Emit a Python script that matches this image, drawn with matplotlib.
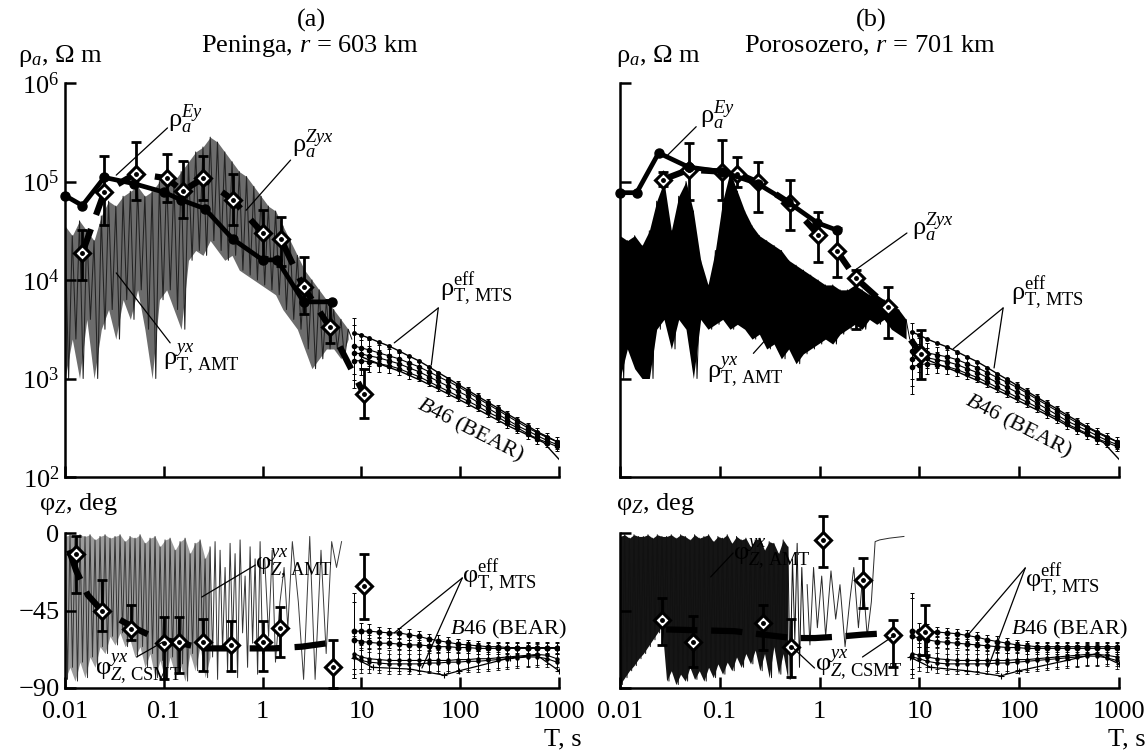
import numpy as np
import matplotlib
matplotlib.use('Agg')
import matplotlib.pyplot as plt
from matplotlib.ticker import NullLocator

plt.rcParams['font.family'] = ['Liberation Serif', 'DejaVu Serif']
plt.rcParams['mathtext.fontset'] = 'custom'
plt.rcParams['mathtext.rm'] = 'Liberation Serif'
plt.rcParams['mathtext.it'] = 'Liberation Serif:italic'
plt.rcParams['mathtext.bf'] = 'Liberation Serif:bold'

# ---------------- axes ticks ----------------
x_ticks = [0.01, 0.1, 1, 10, 100, 1000]
x_ticklabels = ['0.01', '0.1', '1', '10', '100', '1000']
rho_ticks = [1e2, 1e3, 1e4, 1e5, 1e6]
rho_ticklabels = ['$10^{2}$', '$10^{3}$', '$10^{4}$', '$10^{5}$', '$10^{6}$']
phi_ticks = [-90, -45, 0]
phi_ticklabels = ['\u221290', '\u221245', '0']

# ---------------- panel (a) Peninga ----------------
ey_a_T = [0.01, 0.015, 0.025, 0.05, 0.1, 0.15, 0.26, 0.5, 1.0, 1.4, 2.6, 5.0]
ey_a_rho = [7.2e4, 5.7e4, 1.1e5, 9.5e4, 7.8e4, 6.5e4, 5.3e4, 2.6e4, 1.6e4, 1.6e4, 6.0e3, 6.0e3]

zyx_a_T = [0.015, 0.025, 0.052, 0.107, 0.155, 0.25, 0.5, 1.0, 1.53, 2.6, 4.8, 10.6]
zyx_a_rho = [1.9e4, 7.8e4, 1.2e5, 1.08e5, 8.0e4, 1.08e5, 6.5e4, 3.0e4, 2.6e4, 8.5e3, 3.3e3, 7.0e2]
zyx_a_lo = [1.0e4, 3.6e4, 6.5e4, 6.2e4, 4.3e4, 6.5e4, 3.6e4, 1.7e4, 1.4e4, 4.5e3, 2.3e3, 4.0e2]
zyx_a_hi = [3.2e4, 1.8e5, 2.5e5, 1.9e5, 1.6e5, 1.8e5, 1.2e5, 5.1e4, 4.4e4, 1.7e4, 6.3e3, 1.25e3]

# AMT apparent resistivity (log10), alternating upper / lower excursions
amt_a_rho_hi = [4.55, 4.45, 4.6, 4.5, 4.4, 4.65, 4.8, 4.75, 4.85, 4.9, 4.95, 4.85, 4.9, 5.0,
                5.05, 5.0, 5.1, 5.2, 5.3, 5.35, 5.45, 5.4, 5.3, 5.2, 5.1, 5.05, 4.95, 4.85,
                4.75, 4.7, 4.55, 4.4, 4.25, 4.1, 4.0, 3.9, 3.8, 3.7, 3.6, 3.5]
amt_a_rho_lo = [3.0, 3.4, 3.0, 3.6, 3.0, 3.5, 3.7, 3.4, 3.8, 3.6, 3.9, 3.5, 3.0, 3.8,
                3.9, 3.7, 3.5, 4.2, 4.3, 4.25, 4.4, 4.3, 4.2, 4.25, 4.1, 4.05, 4.0, 3.95,
                3.9, 3.85, 3.7, 3.6, 3.5, 3.3, 3.1, 3.2, 3.3, 3.3, 3.2, 3.4]

csmt_a_T = [0.011, 0.013, 0.017, 0.0235, 0.035, 0.05, 0.07, 0.1, 0.15, 0.25, 0.5, 1.0, 1.3, 2.5, 4.5]
csmt_a_phi = [-10, -22, -36, -45, -50, -55, -59, -62, -64, -67, -67, -67, -67, -66, -64]

dph_a_T = [0.013, 0.0235, 0.047, 0.1, 0.143, 0.25, 0.48, 1.0, 1.5, 5.2, 10.6]
dph_a_phi = [-12, -45, -56, -64, -63, -63, -65, -63, -55, -78, -31]
dph_a_lo = [-35, -57, -62, -85, -81, -80, -80, -80, -72, -90, -50]
dph_a_hi = [-2, -27, -42, -49, -49, -50, -51, -51, -43, -62, -12]

amt_a_phi_hi = [-2, -1, -3, -1, -2, -1, -4, -2, -1, -3, -2, -1, -5, -2, -3, -1, -6, -3, -2, -8,
                -4, -3, -10, -5, -3, -12, -6, -4, -15, -8, -5, -10, -20, -6, -12, -4, -25, -8, -15, -5]
amt_a_phi_lo = [-85, -78, -86, -75, -84, -72, -78, -66, -70, -60, -65, -58, -66, -62, -72, -66,
                -78, -70, -84, -74, -85, -72, -82, -76, -86, -70, -80, -66, -84, -72, -85, -68,
                -80, -62, -84, -58, -78, -64, -82, -70]
amt_a_tail_T = [1.05, 1.15, 1.25, 1.35, 1.5, 1.65, 1.8, 2.0, 2.3, 2.6, 3.0, 3.4, 3.9, 4.4, 5.0, 5.6, 6.3]
amt_a_tail_phi = [-15, -60, -10, -75, -40, -20, -55, -5, -40, -85, -2, -85, -10, -70, -5, -20, -5]

# ---------------- panel (b) Porosozero ----------------
ey_b_T = [0.01, 0.0147, 0.0244, 0.0487, 0.105, 0.24, 0.48, 0.95, 1.5]
ey_b_rho = [7.7e4, 7.7e4, 1.95e5, 1.4e5, 1.26e5, 9.5e4, 6.2e4, 3.8e4, 3.2e4]

zyx_b_T = [0.027, 0.049, 0.105, 0.15, 0.24, 0.5, 0.97, 1.5, 2.3, 4.8, 10.3]
zyx_b_lrho = [5.02, 5.12, 5.1, 5.08, 4.99, 4.78, 4.46, 4.29, 4.02, 3.73, 3.25]
zyx_b_llo = [4.95, 4.81, 4.81, 4.94, 4.69, 4.51, 4.18, 4.03, 3.5, 3.41, 3.0]
zyx_b_lhi = [5.1, 5.39, 5.42, 5.25, 5.2, 5.02, 4.69, 4.53, 4.1, 3.93, 3.49]

amt_b_rho_hi = [4.45, 4.4, 4.45, 4.35, 4.5, 4.8, 5.0, 4.5, 4.85, 5.0, 4.7, 4.2, 3.95, 4.3,
                4.8, 5.1, 4.9, 4.7, 4.55, 4.45, 4.4, 4.35, 4.3, 4.2, 4.15, 4.1, 4.05, 4.0,
                3.95, 3.95, 3.9, 3.9, 3.95, 3.9, 3.85, 3.85, 3.8, 3.75, 3.7, 3.6]
amt_b_rho_lo = [3.0, 3.3, 3.1, 3.0, 3.0, 3.5, 3.6, 3.3, 3.6, 3.5, 3.0, 3.6, 3.5, 3.55,
                3.6, 3.5, 3.55, 3.5, 3.4, 3.45, 3.3, 3.35, 3.2, 3.3, 3.15, 3.25, 3.3, 3.35,
                3.4, 3.35, 3.45, 3.5, 3.55, 3.5, 3.6, 3.55, 3.6, 3.5, 3.45, 3.4]

csmt_b_T = [0.029, 0.14, 0.27, 0.54, 0.9, 1.7, 2.7, 5.5]
csmt_b_phi = [-56, -57, -59, -61, -61, -60, -59, -58]

dph_b_T = [0.0266, 0.054, 0.27, 0.52, 1.08, 2.7, 5.5, 11.3]
dph_b_phi = [-50.5, -63, -52, -66, -4, -27, -59, -57.5]
dph_b_lo = [-65, -78, -68, -83.6, -20, -43.5, -78, -71]
dph_b_hi = [-38, -48, -42, -50, 10, -14.5, -50.5, -42]

amt_b_phi_hi = [-2, -1, -3, -1, -2, -2, -1, -3, -1, -2, -2, -1, -3, -1, -2, -4, -1, -3, -2, -1,
                -5, -2, -3, -1, -6, -2, -4, -3, -8, -4, -3, -10, -5, -6, -12, -4, -8, -15, -6, -20]
amt_b_phi_lo = [-88, -84, -80, -77, -73, -70, -66, -62, -58, -54, -86, -80, -88, -82, -86, -78,
                -85, -80, -86, -78, -84, -76, -82, -75, -80, -72, -78, -70, -76, -68, -80, -70,
                -84, -66, -82, -70, -85, -62, -78, -60]
amt_b_tail_T = [0.75, 0.8, 0.87, 0.95, 1.05, 1.15, 1.3, 1.45, 1.6, 1.8, 2.0, 2.2, 2.45, 2.7,
                3.0, 3.3, 3.6, 4.0, 5.0, 7.0]
amt_b_tail_phi = [-30, -65, -20, -55, -25, -60, -22, -50, -30, -66, -40, -20, -55, -25,
                  -60, -40, -5, -4, -3, -2]

# ---------------- MTS (long periods) ----------------
mts_T = [8.5, 10, 12, 15, 19, 24, 30, 38, 48, 60, 76, 95, 120, 150, 190, 240, 300, 380, 480, 600, 760, 950]
mts_rho_err = [0.28, 0.14, 0.1, 0.08, 0.07, 0.06, 0.06, 0.05, 0.05, 0.05, 0.05,
               0.05, 0.05, 0.05, 0.05, 0.05, 0.05, 0.05, 0.05, 0.05, 0.05, 0.05]
mts_phi_err_up = [22, 5, 4, 3, 3, 3, 3, 3, 3, 3, 3, 3, 3, 3, 3, 3, 3, 3, 3, 3, 3, 3]
mts_phi_err_lo = [12, 7, 6, 6, 6, 6, 6, 6, 6, 6, 6, 6, 6, 6, 6, 6, 6, 6, 6, 6, 5, 5]

mts_a_up = [3.46, 3.44, 3.41, 3.37, 3.33, 3.28, 3.23, 3.18, 3.12, 3.06, 3.0, 2.94, 2.88, 2.82,
            2.76, 2.70, 2.64, 2.58, 2.52, 2.46, 2.41, 2.36]
mts_a_1 = [3.33, 3.31, 3.29, 3.26, 3.23, 3.2, 3.16, 3.12, 3.07, 3.02, 2.97, 2.92, 2.86, 2.80,
           2.74, 2.68, 2.62, 2.56, 2.50, 2.45, 2.40, 2.36]
mts_a_2 = [3.26, 3.25, 3.23, 3.21, 3.18, 3.15, 3.11, 3.07, 3.02, 2.97, 2.92, 2.87, 2.82, 2.76,
           2.70, 2.64, 2.58, 2.52, 2.47, 2.42, 2.37, 2.33]
mts_a_3 = [3.18, 3.18, 3.17, 3.15, 3.13, 3.10, 3.06, 3.02, 2.97, 2.92, 2.87, 2.82, 2.77, 2.72,
           2.66, 2.61, 2.55, 2.50, 2.44, 2.39, 2.35, 2.31]
b46_a_T = [10, 15, 25, 40, 70, 120, 200, 320, 500, 700, 1000]
b46_a_rho = [3.22, 3.15, 3.07, 2.98, 2.86, 2.74, 2.62, 2.51, 2.42, 2.35, 2.18]

mts_b_up = [3.47, 3.44, 3.40, 3.36, 3.32, 3.27, 3.22, 3.17, 3.11, 3.05, 2.99, 2.93, 2.87, 2.81,
            2.75, 2.69, 2.63, 2.57, 2.51, 2.46, 2.41, 2.36]
mts_b_1 = [3.28, 3.27, 3.26, 3.24, 3.22, 3.19, 3.15, 3.11, 3.06, 3.01, 2.96, 2.91, 2.85, 2.79,
           2.73, 2.67, 2.61, 2.55, 2.50, 2.45, 2.40, 2.36]
mts_b_2 = [3.20, 3.21, 3.21, 3.19, 3.17, 3.14, 3.10, 3.06, 3.01, 2.96, 2.91, 2.86, 2.81, 2.75,
           2.69, 2.63, 2.57, 2.52, 2.47, 2.42, 2.37, 2.33]
mts_b_3 = [3.12, 3.14, 3.15, 3.14, 3.12, 3.09, 3.05, 3.01, 2.96, 2.91, 2.86, 2.81, 2.76, 2.71,
           2.65, 2.60, 2.54, 2.49, 2.44, 2.39, 2.35, 2.31]
b46_b_T = [10, 15, 25, 40, 70, 120, 200, 320, 500, 700, 1000]
b46_b_rho = [3.22, 3.15, 3.06, 2.97, 2.85, 2.73, 2.62, 2.51, 2.42, 2.35, 2.18]

mts_a_phi_up1 = [-57, -57, -57, -57.5, -58, -58, -59, -60, -61.5, -62.5, -63.5, -64.5, -65, -65.5,
                 -66, -66, -66.5, -66.5, -66.5, -66.5, -66.5, -66.5]
mts_a_phi_up2 = [-62, -63, -63.5, -64, -64, -64.5, -65, -65, -65.5, -66, -66, -66.5, -66.5, -67,
                 -67, -67, -67, -67, -67, -67, -67, -67]
mts_a_phi_lo1 = [-70, -72, -73, -73.5, -74, -74, -74, -74, -74, -74, -74, -73.5, -73.5, -73,
                 -73, -72.5, -72, -71.5, -71, -70.5, -71, -73]
mts_a_phi_lo2 = [-72, -74, -75, -75.5, -76, -76, -76, -76, -75.5, -75.5, -75, -75, -74.5, -74.5,
                 -74, -73.5, -73, -72.5, -72, -72, -73, -75]
b46_a_phT = [8.5, 13, 31, 68, 98, 316, 600, 1000]
b46_a_phi = [-72.6, -78, -79, -82.5, -80, -72.6, -71, -80]

mts_b_phi_up1 = [-57, -57, -57, -57.5, -58, -58.5, -59.5, -60.5, -62, -63, -64, -65, -65.5, -66,
                 -66, -66, -66, -66, -66, -66, -66, -66]
mts_b_phi_up2 = [-60, -61, -62, -63, -63.5, -64, -64.5, -65, -65.5, -66, -66.5, -66.5, -67, -67,
                 -67, -67, -67, -67, -67, -67, -67, -67]
mts_b_phi_lo1 = [-70, -71, -72, -73, -73.5, -74, -74, -74, -74, -74, -74, -73.5, -73.5, -73,
                 -72.5, -72, -71.5, -71, -70.5, -70.5, -71, -72]
mts_b_phi_lo2 = [-72, -73, -74.5, -75.5, -76, -76, -76, -76, -76, -75.5, -75.5, -75, -74.5, -74,
                 -73.5, -73, -72.5, -72, -71.5, -71.5, -72.5, -74]
b46_b_phT = [8, 13, 30, 65, 100, 300, 600, 1000]
b46_b_phi = [-72, -78, -80, -83, -80, -74, -70, -76]

# ---------------- figure ----------------
W, H = 1146, 753
fig = plt.figure(figsize=(W / 100, H / 100), dpi=100)


def box(x0, x1, y0, y1):
    return [x0 / W, 1 - y1 / H, (x1 - x0) / W, (y1 - y0) / H]


axA = fig.add_axes(box(65, 559, 83, 477))
axAp = fig.add_axes(box(65, 559, 533, 688))
axB = fig.add_axes(box(620, 1119, 83, 477))
axBp = fig.add_axes(box(620, 1119, 533, 688))

FS = 19
FS_B46 = 16


def style(ax, top, show_y):
    ax.set_xscale('log')
    ax.set_xlim(0.01, 1000)
    ax.set_xticks(x_ticks)
    ax.set_xticklabels([] if top else x_ticklabels)
    if top:
        ax.set_yscale('log')
        ax.set_ylim(1e2, 1e6)
        ax.set_yticks(rho_ticks)
        ax.set_yticklabels(rho_ticklabels if show_y else [])
    else:
        ax.set_ylim(-90, 0)
        ax.set_yticks(phi_ticks)
        ax.set_yticklabels(phi_ticklabels if show_y else [])
    ax.xaxis.set_minor_locator(NullLocator())
    ax.yaxis.set_minor_locator(NullLocator())
    for s in ('top', 'right'):
        ax.spines[s].set_visible(False)
    for s in ('left', 'bottom'):
        ax.spines[s].set_linewidth(1.8)
    ax.tick_params(direction='in', length=8, width=1.8, labelsize=FS)
    ax.tick_params(axis='x', pad=9)
    ax.tick_params(axis='y', pad=4)


def noise(ax, t0, t1, hi, lo, color, lw, fill=None, log=False, fill_until=None):
    n = len(hi)
    T = np.geomspace(t0, t1, 2 * n)
    hi = np.asarray(hi, float)
    lo = np.asarray(lo, float)
    y = np.empty(2 * n)
    y[0::2] = hi
    y[1::2] = lo
    if log:
        y = 10 ** y
        hi, lo = 10 ** hi, 10 ** lo
    if fill is not None:
        Tf = T[0::2]
        where = None if fill_until is None else Tf <= fill_until
        ax.fill_between(Tf, lo, hi, where=where, color=fill, lw=0, zorder=1)
    ax.plot(T, y, color=color, lw=lw, zorder=1.2)


def diamonds(ax, T, v, lo, hi, clip=True):
    v = np.asarray(v)
    yerr = [v - np.asarray(lo), np.asarray(hi) - v]
    eb = ax.errorbar(T, v, yerr=yerr, fmt='none', ecolor='k', elinewidth=2.0,
                     capsize=3.8, capthick=2.0, zorder=4)
    for ch in eb.get_children():
        ch.set_clip_on(clip)
    ax.plot(T, v, 'D', ms=8.5, mfc='white', mec='k', mew=2.2, zorder=5, clip_on=clip)
    ax.plot(T, v, 'o', ms=2.5, color='k', zorder=6, clip_on=clip)


def mts_rho(ax, up, curves, b46T, b46):
    T = np.asarray(mts_T)
    e = np.asarray(mts_rho_err)
    ax.plot(T, 10 ** np.asarray(up), '-o', color='k', lw=1.0, ms=2.5, zorder=2)
    for c in curves:
        c = np.asarray(c)
        v = 10 ** c
        ax.errorbar(T, v, yerr=[v - 10 ** (c - e), 10 ** (c + e) - v], fmt='-o', color='k',
                    lw=0.8, ms=3, elinewidth=0.7, capsize=1.5, capthick=0.7, zorder=2)
    ax.plot(b46T, 10 ** np.asarray(b46), '-', color='k', lw=1.0, zorder=2)


def mts_phi(ax, ups, los, b46T, b46):
    T = np.asarray(mts_T)
    for c in ups:
        ax.errorbar(T, c, yerr=mts_phi_err_up, fmt='-o', color='k', lw=0.8, ms=3.2,
                    elinewidth=0.7, capsize=1.5, capthick=0.7, zorder=2)
    for c in los:
        ax.errorbar(T, c, yerr=mts_phi_err_lo, fmt='-o', color='k', lw=0.8, ms=2.2,
                    elinewidth=0.6, capsize=1.5, capthick=0.6, zorder=2)
    ax.plot(b46T, b46, '-+', color='k', lw=0.9, ms=5, mew=0.8, zorder=2)


def label(ax, x, y, s, size=FS, **kw):
    ax.text(x, y, s, fontsize=size, ha='left', va='baseline', zorder=8, **kw)


def leader(ax, p_from, p_to):
    ax.annotate('', xy=p_to, xytext=p_from,
                arrowprops=dict(arrowstyle='-', lw=0.9, color='k', shrinkA=0, shrinkB=0),
                zorder=8)


for ax, top, sy in ((axA, True, True), (axAp, False, True), (axB, True, False), (axBp, False, False)):
    style(ax, top, sy)

# ---- (a) resistivity ----
noise(axA, 0.01, 8.0, amt_a_rho_hi, amt_a_rho_lo, '#222222', 0.75, fill='#6c6c6c', log=True)
mts_rho(axA, mts_a_up, [mts_a_1, mts_a_2, mts_a_3], b46_a_T, b46_a_rho)
axA.plot(zyx_a_T, zyx_a_rho, ls=(0, (4, 2.4)), lw=4.5, color='k', zorder=3)
diamonds(axA, zyx_a_T, zyx_a_rho, zyx_a_lo, zyx_a_hi)
axA.plot(ey_a_T, ey_a_rho, '-o', color='k', lw=3.4, ms=6.5, zorder=6, clip_on=False)

label(axA, 0.111, 3.57e5, '\u03c1$_{a}^{Ey}$')
leader(axA, (0.109, 3.5e5), (0.033, 1.16e5))
label(axA, 2.0, 2.0e5, '\u03c1$_{a}^{Zyx}$')
leader(axA, (1.92, 1.65e5), (0.68, 5.1e4))
label(axA, 0.098, 1.37e3, '\u03c1$_{\\mathrm{T,\\,AMT}}^{yx}$')
leader(axA, (0.116, 2.3e3), (0.033, 1.18e4))
label(axA, 63, 6.9e3, '\u03c1$_{\\mathrm{T,\\,MTS}}^{\\mathrm{eff}}$')
leader(axA, (60, 5.2e3), (21.5, 2.3e3))
leader(axA, (60, 5.2e3), (51, 1.37e3))
axA.text(125, 300, '$B$46 (BEAR)', fontsize=FS_B46, rotation=-27, ha='center', va='center',
         rotation_mode='anchor', zorder=8)

# ---- (a) phase ----
noise(axAp, 0.01, 1.0, amt_a_phi_hi, amt_a_phi_lo, '#333333', 0.7, fill='#9c9c9c', fill_until=0.3)
axAp.plot(amt_a_tail_T, amt_a_tail_phi, color='#3a3a3a', lw=0.7, zorder=1.2)
mts_phi(axAp, [mts_a_phi_up1, mts_a_phi_up2], [mts_a_phi_lo1, mts_a_phi_lo2], b46_a_phT, b46_a_phi)
axAp.plot(csmt_a_T, csmt_a_phi, ls=(0, (5, 2.2)), lw=4.5, color='k', zorder=3)
diamonds(axAp, dph_a_T, dph_a_phi, dph_a_lo, dph_a_hi, clip=False)

label(axAp, 0.845, -21.5, '\u03c6$_{Z,\\,\\mathrm{AMT}}^{yx}$')
leader(axAp, (0.845, -18.6), (0.242, -37.2))
label(axAp, 0.02, -83, '\u03c6$_{Z,\\,\\mathrm{CSMT}}^{yx}$')
leader(axAp, (0.053, -72), (0.098, -63.3))
label(axAp, 105, -29, '\u03c6$_{\\mathrm{T,\\,MTS}}^{\\mathrm{eff}}$')
leader(axAp, (105, -26.1), (21.5, -58))
leader(axAp, (105, -26.1), (41, -78.4))
label(axAp, 78, -59.2, '$B$46 (BEAR)', size=FS_B46)

# ---- (b) resistivity ----
noise(axB, 0.01, 8.0, amt_b_rho_hi, amt_b_rho_lo, 'k', 0.7, fill='k', log=True)
mts_rho(axB, mts_b_up, [mts_b_1, mts_b_2, mts_b_3], b46_b_T, b46_b_rho)
axB.plot(zyx_b_T, 10 ** np.asarray(zyx_b_lrho), ls=(0, (4, 2.4)), lw=4.5, color='k', zorder=3)
diamonds(axB, zyx_b_T, 10 ** np.asarray(zyx_b_lrho), 10 ** np.asarray(zyx_b_llo),
         10 ** np.asarray(zyx_b_lhi))
axB.plot(ey_b_T, ey_b_rho, '-o', color='k', lw=3.4, ms=6.5, zorder=6, clip_on=False)

label(axB, 0.063, 3.9e5, '\u03c1$_{a}^{Ey}$')
leader(axB, (0.058, 3.6e5), (0.030, 1.85e5))
label(axB, 8.5, 2.9e4, '\u03c1$_{a}^{Zyx}$')
leader(axB, (7.5, 3.0e4), (2.27, 1.26e4))
label(axB, 0.0745, 1.0e3, '\u03c1$_{\\mathrm{T,\\,AMT}}^{yx}$')
leader(axB, (0.217, 1.8e3), (0.45, 4.1e3))
label(axB, 82, 6.3e3, '\u03c1$_{\\mathrm{T,\\,MTS}}^{\\mathrm{eff}}$')
leader(axB, (69, 5.2e3), (21.8, 2.0e3))
leader(axB, (69, 5.2e3), (56, 1.28e3))
axB.text(98, 324, '$B$46 (BEAR)', fontsize=FS_B46, rotation=-27, ha='center', va='center',
         rotation_mode='anchor', zorder=8)

# ---- (b) phase ----
noise(axBp, 0.01, 0.7, amt_b_phi_hi, amt_b_phi_lo, '#111111', 0.7, fill='#151515', fill_until=0.5)
axBp.plot(amt_b_tail_T, amt_b_tail_phi, color='#2a2a2a', lw=0.7, zorder=1.2)
mts_phi(axBp, [mts_b_phi_up1, mts_b_phi_up2], [mts_b_phi_lo1, mts_b_phi_lo2], b46_b_phT, b46_b_phi)
axBp.plot(csmt_b_T, csmt_b_phi, ls=(0, (5, 2.2)), lw=4.5, color='k', zorder=3)
diamonds(axBp, dph_b_T, dph_b_phi, dph_b_lo, dph_b_hi, clip=False)

label(axBp, 0.136, -15.7, '\u03c6$_{Z,\\,\\mathrm{AMT}}^{yx}$')
leader(axBp, (0.136, -11.6), (0.081, -25.5))
label(axBp, 0.89, -80.7, '\u03c6$_{Z,\\,\\mathrm{CSMT}}^{yx}$')
leader(axBp, (2.69, -72), (5.3, -60.4))
leader(axBp, (0.89, -78.4), (0.53, -66.2))
label(axBp, 115, -31, '\u03c6$_{\\mathrm{T,\\,MTS}}^{\\mathrm{eff}}$')
leader(axBp, (115, -20.3), (29.5, -60.4))
leader(axBp, (115, -20.3), (49, -77.8))
label(axBp, 82, -59, '$B$46 (BEAR)', size=FS_B46)

# ---- figure texts ----
def ftext(x, y, s, ha='left', size=FS):
    fig.text(x / W, 1 - y / H, s, ha=ha, va='baseline', fontsize=size)


ftext(18, 62, '\u03c1$_{a}$, \u03a9 m')
ftext(616, 62, '\u03c1$_{a}$, \u03a9 m')
ftext(39, 510, '\u03c6$_{Z}$, deg')
ftext(616, 510, '\u03c6$_{Z}$, deg')
ftext(311, 27, '(a)', ha='center')
ftext(310, 52, 'Peninga, $r$ = 603 km', ha='center')
ftext(871, 27, '(b)', ha='center')
ftext(870, 52, 'Porosozero, $r$ = 701 km', ha='center')
ftext(544, 745, 'T, s')
ftext(1146, 745, 'T, s', ha='right')

fig.savefig('out.png', dpi=100)
